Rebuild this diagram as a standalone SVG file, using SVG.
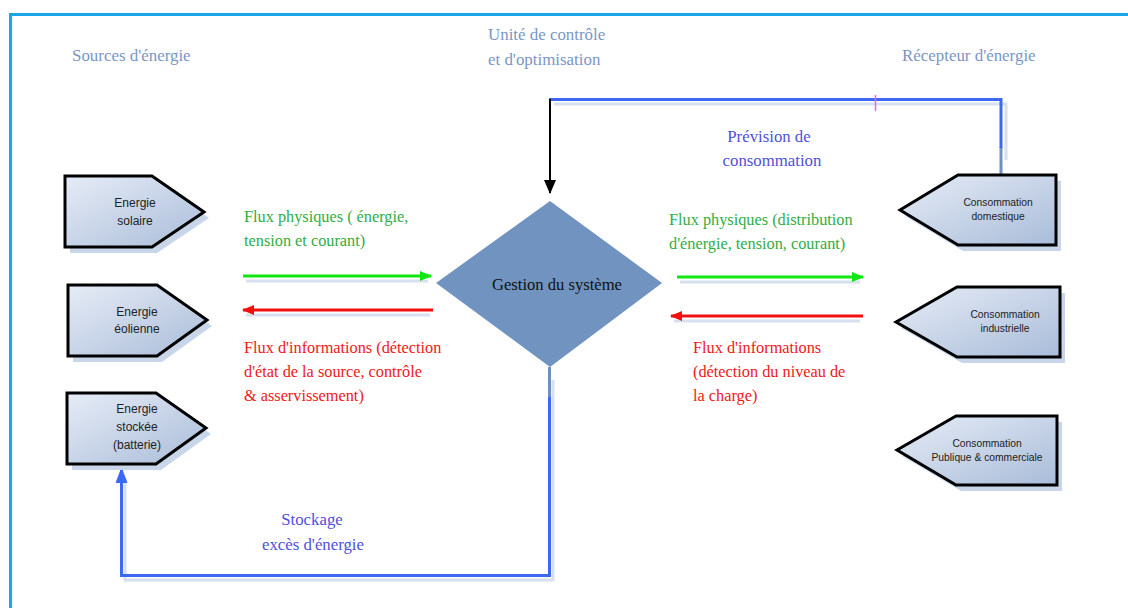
<svg xmlns="http://www.w3.org/2000/svg" width="1128" height="608" viewBox="0 0 1128 608">
<defs>
<linearGradient id="nodeFill" x1="0" y1="0" x2="1" y2="1">
<stop offset="0" stop-color="#e6ecf6"/>
<stop offset="1" stop-color="#a9bcd9"/>
</linearGradient>
<marker id="mGreen" markerWidth="12" markerHeight="10" refX="11" refY="5" orient="auto" markerUnits="userSpaceOnUse">
<path d="M0,0 L12,5 L0,10 Z" fill="#11e811"/>
</marker>
<marker id="mRed" markerWidth="12" markerHeight="10" refX="11" refY="5" orient="auto" markerUnits="userSpaceOnUse">
<path d="M0,0 L12,5 L0,10 Z" fill="#f01010"/>
</marker>
<marker id="mBlack" markerWidth="14" markerHeight="12" refX="13" refY="6" orient="auto" markerUnits="userSpaceOnUse">
<path d="M0,0 L14,6 L0,12 Z" fill="#000"/>
</marker>
<marker id="mBlue" markerWidth="16" markerHeight="12" refX="15" refY="6" orient="auto" markerUnits="userSpaceOnUse">
<path d="M0,0 L16,6 L0,12 Z" fill="#3d68f5"/>
</marker>
</defs>
<style>
.title{font-family:"Liberation Serif",serif;font-size:16.9px;fill:#7a96c6}
.node{fill:url(#nodeFill);stroke:#000;stroke-width:3;stroke-linejoin:miter}
.shadow{fill:#c9d6ea}
.ntext{font-family:"Liberation Sans",Arial,sans-serif;font-size:12px;fill:#222;text-anchor:middle}
.ctext{font-family:"Liberation Sans",Arial,sans-serif;font-size:10.3px;fill:#222;text-anchor:middle}
.lbl{font-family:"Liberation Serif",serif;font-size:16.3px}
.green{fill:#2fae45}
.red{fill:#f01818}
.blue{fill:#5050dd;font-size:16.8px}
.sh{fill:none;stroke:#d6e0ee;stroke-width:3}
.bl{fill:none;stroke:#3d68f5;stroke-width:3}
.gb{fill:none;stroke:#7090c0;stroke-width:3}
</style>
<rect width="1128" height="608" fill="#fff"/>
<g id="frame">
<line x1="9" y1="14.5" x2="1128" y2="14.5" stroke="#1aa6e4" stroke-width="3"/>
<line x1="10.5" y1="13" x2="10.5" y2="608" stroke="#1aa6e4" stroke-width="3"/>
</g>
<g id="titles">
<text class="title" x="72" y="61">Sources d'énergie</text>
<text class="title" x="488" y="40">Unité de contrôle</text>
<text class="title" x="488" y="65">et d'optimisation</text>
<text class="title" x="902" y="61">Récepteur d'énergie</text>
</g>
<g id="connectors">
<path class="sh" d="M554,104 L1006,104 L1006,160"/>
<path class="sh" d="M553,380 L553,580 L125,580 L125,478"/>
<line class="sh" x1="246" y1="281" x2="428" y2="281"/>
<line class="sh" x1="246" y1="315" x2="430" y2="315"/>
<line class="sh" x1="680" y1="282" x2="860" y2="282"/>
<line class="sh" x1="674" y1="321" x2="860" y2="321"/>
<path class="gb" d="M1001,175 L1001,147"/>
<path class="bl" d="M1001,148 L1001,99.5 L549,99.5"/>
<path d="M550,99 L550,193" fill="none" stroke="#000" stroke-width="2" marker-end="url(#mBlack)"/>
<line x1="875.5" y1="95" x2="875.5" y2="111" stroke="#ee66ee" stroke-width="1.5"/>
<path class="gb" d="M549.5,367 L549.5,398"/>
<path class="bl" d="M549.5,397 L549.5,575.5 L121.5,575.5 L121.5,468" marker-end="url(#mBlue)"/>
<line x1="243" y1="276" x2="431" y2="276" stroke="#11e811" stroke-width="3" marker-end="url(#mGreen)"/>
<line x1="433" y1="310" x2="243" y2="310" stroke="#f01010" stroke-width="3" marker-end="url(#mRed)"/>
<line x1="677" y1="277" x2="863" y2="277" stroke="#11e811" stroke-width="3" marker-end="url(#mGreen)"/>
<line x1="863" y1="316" x2="671" y2="316" stroke="#f01010" stroke-width="3" marker-end="url(#mRed)"/>
</g>
<g id="labels">
<text class="lbl green" x="244" y="222">Flux physiques ( énergie,</text>
<text class="lbl green" x="244" y="246">tension et courant)</text>
<text class="lbl red" x="244" y="353">Flux d'informations (détection</text>
<text class="lbl red" x="244" y="377">d'état de la source, contrôle</text>
<text class="lbl red" x="244" y="401">&amp; asservissement)</text>
<text class="lbl green" x="669" y="225">Flux physiques (distribution</text>
<text class="lbl green" x="669" y="249">d'énergie, tension, courant)</text>
<text class="lbl red" x="693" y="353">Flux d'informations</text>
<text class="lbl red" x="693" y="377">(détection du niveau de</text>
<text class="lbl red" x="693" y="401">la charge)</text>
<text class="lbl blue" x="769" y="142" text-anchor="middle">Prévision de</text>
<text class="lbl blue" x="772" y="166" text-anchor="middle">consommation</text>
<text class="lbl blue" x="312" y="525" text-anchor="middle">Stockage</text>
<text class="lbl blue" x="313" y="550" text-anchor="middle">excès d'énergie</text>
</g>
<g id="diamond">
<polygon points="550,201 662,283 550,367 436,283" fill="#7094bf"/>
<text x="557" y="290" text-anchor="middle" font-family="Liberation Serif,serif" font-size="16.6" fill="#111">Gestion du système</text>
</g>
<g id="src-solaire">
<polygon class="shadow" points="70,182 157,182 209,218 157,253 70,253"/>
<polygon class="node" points="65,176 152,176 204,212 152,247 65,247"/>
<text class="ntext" x="135" y="207">Energie</text>
<text class="ntext" x="135" y="225">solaire</text>
</g>
<g id="src-eolienne">
<polygon class="shadow" points="73,291 162,291 212,326 162,362 73,362"/>
<polygon class="node" points="68,285 157,285 207,320 157,356 68,356"/>
<text class="ntext" x="137" y="316">Energie</text>
<text class="ntext" x="137" y="333">éolienne</text>
</g>
<g id="src-stockee">
<polygon class="shadow" points="72,399 161,399 211,434 161,470 72,470"/>
<polygon class="node" points="67,393 156,393 206,428 156,464 67,464"/>
<text class="ntext" x="137" y="413">Energie</text>
<text class="ntext" x="137" y="431">stockée</text>
<text class="ntext" x="137" y="449">(batterie)</text>
</g>
<g id="cons-domestique">
<polygon class="shadow" points="905,216 963,181 1061,181 1061,251 963,251"/>
<polygon class="node" points="900,210 958,175 1056,175 1056,245 958,245"/>
<text class="ctext" x="998" y="206">Consommation</text>
<text class="ctext" x="998" y="220">domestique</text>
</g>
<g id="cons-industrielle">
<polygon class="shadow" points="901,328 962,293 1065,293 1065,363 962,363"/>
<polygon class="node" points="896,322 957,287 1060,287 1060,357 957,357"/>
<text class="ctext" x="1005" y="318">Consommation</text>
<text class="ctext" x="1005" y="332">industrielle</text>
</g>
<g id="cons-publique">
<polygon class="shadow" points="902,456 961,422 1062,422 1062,491 961,491"/>
<polygon class="node" points="897,450 956,416 1057,416 1057,485 956,485"/>
<text class="ctext" x="987" y="447">Consommation</text>
<text class="ctext" x="987" y="461">Publique &amp; commerciale</text>
</g>
</svg>
